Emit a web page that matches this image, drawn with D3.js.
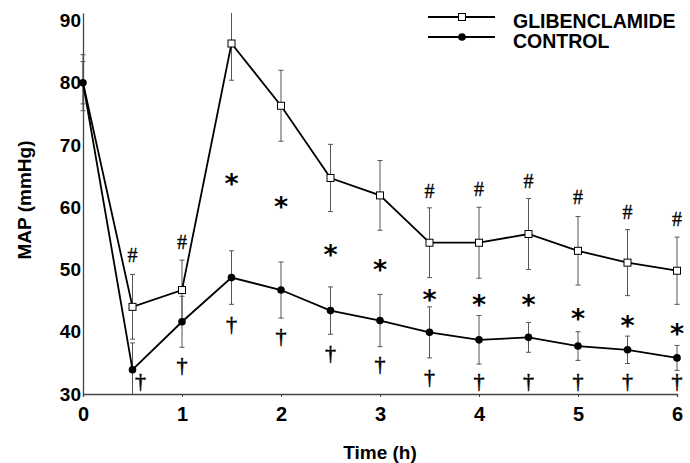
<!DOCTYPE html>
<html>
<head>
<meta charset="utf-8">
<script src="https://cdn.jsdelivr.net/npm/d3@7"></script>
<style>
  html, body { margin: 0; padding: 0; background: #fff; }
  svg { display: block; }
</style>
</head>
<body>
<div id="chart"></div>
<script>
// ===== data =====
const times = [0, 0.5, 1, 1.5, 2, 2.5, 3, 3.5, 4, 4.5, 5, 5.5, 6];
const glibMean = [80, 44, 46.7, 86.3, 76.3, 64.7, 61.9, 54.3, 54.3, 55.7, 53.0, 51.1, 49.8];
const glibErr  = [4.5, 5.2, 4.8, 5.9, 5.7, 5.4, 5.6, 5.6, 5.7, 5.7, 5.5, 5.3, 5.4];
const ctrlMean = [80, 33.9, 41.6, 48.7, 46.7, 43.4, 41.8, 39.9, 38.7, 39.1, 37.7, 37.1, 35.8];
const ctrlErr  = [3.4, 4.3, 4.1, 4.3, 4.5, 3.8, 4.2, 4.1, 3.9, 2.4, 2.3, 2.2, 2.0];

const xTicks = [0, 1, 2, 3, 4, 5, 6];
const yTicks = [30, 40, 50, 60, 70, 80, 90];

// significance marks: time, value (centre of glyph)
const hashTimes  = [0.5, 1, 3.5, 4, 4.5, 5, 5.5, 6];
const hashVals   = [52.2, 54.3, 62.5, 62.8, 64.1, 61.5, 59.1, 58.0];
const starTimes  = [1.5, 2, 2.5, 3, 3.5, 4, 4.5, 5, 5.5, 6];
const starVals   = [64.9, 61.2, 53.5, 51.1, 46.2, 45.5, 45.5, 43.2, 42.1, 40.8];
const daggerTimes = [0.58, 1, 1.5, 2, 2.5, 3, 3.5, 4, 4.5, 5, 5.5, 6];
const daggerVals  = [32.0, 34.5, 41.1, 39.2, 36.5, 34.7, 32.5, 32.0, 32.0, 32.0, 32.0, 32.0];

const seriesNames = ['GLIBENCLAMIDE', 'CONTROL'];

const width = 690, height = 463;
const sansBold = '"Liberation Sans", Arial, sans-serif';
const serif = '"Liberation Serif", "Times New Roman", serif';

const svg = d3.select('#chart').append('svg')
  .attr('width', width).attr('height', height);

const x = d3.scaleLinear().domain([0, 6]).range([83, 677]);
const y = d3.scaleLinear().domain([30, 91.2]).range([394, 13]);

// axes
const xAxis = svg.append('g')
  .attr('transform', `translate(0,${y(30)})`)
  .call(d3.axisBottom(x).tickValues(xTicks).tickSize(3).tickPadding(10).tickFormat(d3.format('d')));
xAxis.select('.domain').attr('stroke', '#444').attr('stroke-width', 1.3);
xAxis.selectAll('.tick line').attr('stroke', '#444');
xAxis.selectAll('text')
  .style('font-family', sansBold).style('font-weight', 'bold').style('font-size', '20px').attr('fill', '#000');

const yAxis = svg.append('g')
  .attr('transform', `translate(${x(0)},0)`)
  .call(d3.axisLeft(y).tickValues(yTicks).tickSize(0).tickPadding(2).tickFormat(d3.format('d')));
yAxis.select('.domain').attr('stroke', '#444').attr('stroke-width', 1.3);
yAxis.selectAll('text')
  .style('font-family', sansBold).style('font-weight', 'bold').style('font-size', '19px').attr('fill', '#000');

// axis titles
svg.append('text')
  .attr('transform', `translate(24,${200}) rotate(-90)`)
  .attr('text-anchor', 'middle').attr('dominant-baseline', 'central')
  .style('font-family', sansBold).style('font-weight', 'bold').style('font-size', '19px')
  .text('MAP (mmHg)');

svg.append('text')
  .attr('x', 380).attr('y', 459)
  .attr('text-anchor', 'middle')
  .style('font-family', sansBold).style('font-weight', 'bold').style('font-size', '19px')
  .text('Time (h)');

// error bars
function errorBars(mean, err) {
  const g = svg.append('g').attr('stroke', '#555').attr('stroke-width', 1);
  times.forEach((t, i) => {
    const top = Math.min(mean[i] + err[i], 91.2);
    const bot = Math.max(mean[i] - err[i], 30);
    g.append('line').attr('x1', x(t)).attr('x2', x(t)).attr('y1', y(top)).attr('y2', y(bot));
    if (top < 91.2) g.append('line').attr('x1', x(t) - 2.5).attr('x2', x(t) + 2.5).attr('y1', y(top)).attr('y2', y(top));
    if (bot > 30) g.append('line').attr('x1', x(t) - 2.5).attr('x2', x(t) + 2.5).attr('y1', y(bot)).attr('y2', y(bot));
  });
}
errorBars(glibMean, glibErr);
errorBars(ctrlMean, ctrlErr);

const line = d3.line().x(d => x(d[0])).y(d => y(d[1]));

// glibenclamide
svg.append('path')
  .datum(times.map((t, i) => [t, glibMean[i]]))
  .attr('d', line).attr('fill', 'none').attr('stroke', '#000').attr('stroke-width', 1.8);
svg.append('g').selectAll('rect')
  .data(times.map((t, i) => [t, glibMean[i]]).slice(1))
  .join('rect')
  .attr('x', d => x(d[0]) - 3.5).attr('y', d => y(d[1]) - 3.5)
  .attr('width', 7).attr('height', 7)
  .attr('fill', '#fff').attr('stroke', '#000').attr('stroke-width', 1);

// control
svg.append('path')
  .datum(times.map((t, i) => [t, ctrlMean[i]]))
  .attr('d', line).attr('fill', 'none').attr('stroke', '#000').attr('stroke-width', 1.8);
svg.append('g').selectAll('circle')
  .data(times.map((t, i) => [t, ctrlMean[i]]))
  .join('circle')
  .attr('cx', d => x(d[0])).attr('cy', d => y(d[1])).attr('r', 3.8)
  .attr('fill', '#000');

// significance symbols
function marks(ts, vs, glyph, font, weight, size, dy, stroke) {
  svg.append('g').selectAll('text')
    .data(ts.map((t, i) => [t, vs[i]]))
    .join('text')
    .attr('x', d => x(d[0])).attr('y', d => y(d[1]) + dy)
    .attr('text-anchor', 'middle')
    .attr('fill', '#000')
    .attr('stroke', stroke ? '#000' : 'none').attr('stroke-width', stroke || 0)
    .style('font-family', font).style('font-weight', weight).style('font-size', size + 'px')
    .text(glyph);
}
marks(hashTimes, hashVals, '#', serif, 'normal', 20, 6, 0.3);
marks(starTimes, starVals, '*', '"DejaVu Sans", sans-serif', 'bold', 27, 16, 0);
marks(daggerTimes, daggerVals, '\u2020', serif, 'normal', 22, 6, 0.5);

// legend
const legend = svg.append('g');
seriesNames.forEach((name, i) => {
  const ly = 17 + i * 20;
  legend.append('line').attr('x1', 428).attr('x2', 495).attr('y1', ly).attr('y2', ly)
    .attr('stroke', '#000').attr('stroke-width', 1.8);
  if (i === 0) {
    legend.append('rect').attr('x', 462 - 3.5).attr('y', ly - 3.5).attr('width', 7).attr('height', 7)
      .attr('fill', '#fff').attr('stroke', '#000');
  } else {
    legend.append('circle').attr('cx', 462).attr('cy', ly).attr('r', 3.8).attr('fill', '#000');
  }
  legend.append('text').attr('x', 513).attr('y', ly + 11)
    .style('font-family', sansBold).style('font-weight', 'bold').style('font-size', '19.5px')
    .text(name);
});
</script>
</body>
</html>
